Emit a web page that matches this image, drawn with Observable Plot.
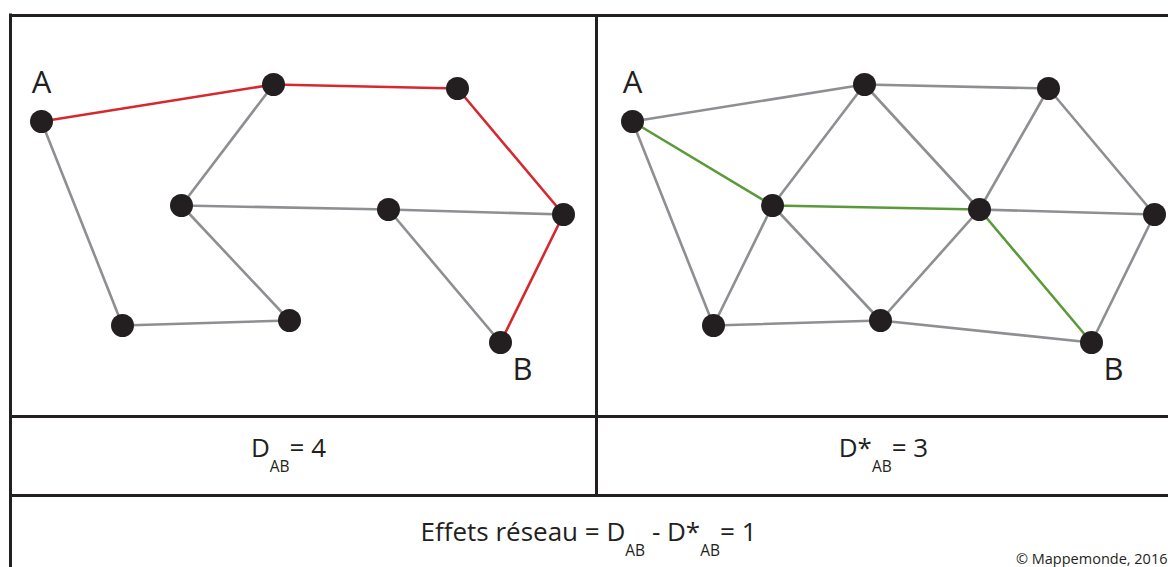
<!DOCTYPE html>
<html><head><meta charset="utf-8">
<script src="https://cdn.jsdelivr.net/npm/d3@7"></script>
<script src="https://cdn.jsdelivr.net/npm/@observablehq/plot@0.6"></script>
<style>body{margin:0;background:#fff;overflow:hidden}</style>
</head><body><div id="chart"></div>
<script>
// Nodes (shared layout for both panels)
const nodeId = ["A", "n1", "n2", "n3", "n4", "n5", "n6", "n7", "B"];
const nodeX  = [41, 273, 457, 181, 388, 563, 122, 289, 500];
const nodeY  = [121, 84, 88, 205, 209, 214, 325, 320, 342];
// Panels
const panelName = ["left", "right"];
const panelOffset = [0, 591];
// Edges: [from, to, kind]
const leftEdges = [
  ["A","n6","base"],["n6","n7","base"],["n7","n3","base"],["n3","n1","base"],
  ["n3","n4","base"],["n4","n5","base"],["n4","B","base"],
  ["A","n1","red"],["n1","n2","red"],["n2","n5","red"],["n5","B","red"]
];
const rightEdges = [
  ["A","n1","base"],["n1","n2","base"],["n2","n5","base"],["n5","B","base"],
  ["A","n6","base"],["n6","n3","base"],["n3","n1","base"],["n1","n4","base"],
  ["n3","n7","base"],["n7","n4","base"],["n4","n2","base"],["n4","n5","base"],
  ["n6","n7","base"],["n7","B","base"],
  ["A","n3","green"],["n3","n4","green"],["n4","B","green"]
];
const edgeKinds = ["base", "red", "green"];
const edgeColors = ["#8e8f92", "#d7282f", "#5a9a3a"];
// Frame lines
const frameLeft = 10, frameTop = 15, frameRight = 1168, frameBottom = 567;
const rowLines = [416, 495];
const dividerX = 596;
// Texts
const endLabels = [{id: "A", dx: 0, dy: -38}, {id: "B", dx: 22, dy: 28}];
const formulas = [
  {text: "D_{AB}= 4", x: 288, y: 456},
  {text: "D*_{AB}= 3", x: 883, y: 456},
  {text: "Effets réseau = D_{AB} - D*_{AB}= 1", x: 588, y: 540}
];
const credit = {text: "© Mappemonde, 2016", x: 1167, y: 563};

const W = 1168, H = 567;
const idx = Object.fromEntries(nodeId.map((d, i) => [d, i]));
const nodes = panelOffset.flatMap((off, p) => nodeId.map((id, i) => ({panel: panelName[p], id, x: nodeX[i] + off, y: nodeY[i]})));
const mkEdges = (list, off) => list.map(([a, b, k]) => ({
  x1: nodeX[idx[a]] + off, y1: nodeY[idx[a]], x2: nodeX[idx[b]] + off, y2: nodeY[idx[b]], kind: k
}));
const edges = [...mkEdges(leftEdges, panelOffset[0]), ...mkEdges(rightEdges, panelOffset[1])];
edges.sort((a, b) => (a.kind !== "base") - (b.kind !== "base"));
const labels = panelOffset.flatMap(off => endLabels.map(l => ({
  t: l.id, x: nodeX[idx[l.id]] + off + l.dx, y: nodeY[idx[l.id]] + l.dy
})));

const font = "Open Sans, sans-serif";
const plot = Plot.plot({
  width: W, height: H, margin: 0,
  x: {domain: [0, W], range: [0, W], axis: null},
  y: {domain: [0, H], range: [0, H], axis: null},
  color: {domain: edgeKinds, range: edgeColors},
  style: {fontFamily: font, background: "#fff"},
  marks: [
    Plot.link(edges, {x1: "x1", y1: "y1", x2: "x2", y2: "y2", stroke: "kind", strokeWidth: 2.6, strokeLinecap: "round"}),
    Plot.dot(nodes, {x: "x", y: "y", r: 11.5, fill: "#231f20", stroke: "none"}),
    Plot.text(labels, {x: "x", y: "y", text: "t", fontSize: 31, fill: "#231f20", textAnchor: "middle"}),
    Plot.ruleY([frameTop, ...rowLines], {x1: frameLeft, x2: frameRight, stroke: "#231f20", strokeWidth: 3}),
    Plot.ruleX([frameLeft], {y1: frameTop - 1.5, y2: frameBottom, stroke: "#231f20", strokeWidth: 3}),
    Plot.ruleX([dividerX], {y1: frameTop, y2: rowLines[1], stroke: "#231f20", strokeWidth: 3}),
    Plot.text(formulas, {x: "x", y: "y", text: "text", fontSize: 26, fill: "#231f20", textAnchor: "middle", lineAnchor: "bottom", className: "formula"}),
    Plot.text([credit], {x: "x", y: "y", text: "text", fontSize: 14.5, fill: "#231f20", textAnchor: "end", lineAnchor: "bottom"})
  ]
});

// Turn "_{...}" into subscript tspans
d3.select(plot).selectAll("g.formula text").each(function() {
  const el = d3.select(this);
  const s = el.text();
  el.text(null);
  const parts = s.split(/(_\{[^}]*\})/);
  let shifted = false;
  for (const p of parts) {
    if (!p) continue;
    if (p.startsWith("_{")) {
      el.append("tspan").attr("font-size", 15.5).attr("dy", 15).text(p.slice(2, -1));
      shifted = true;
    } else {
      const t = el.append("tspan").text(p);
      if (shifted) { t.attr("dy", -15); shifted = false; }
    }
  }
});
document.getElementById("chart").append(plot);
</script>
</body></html>
